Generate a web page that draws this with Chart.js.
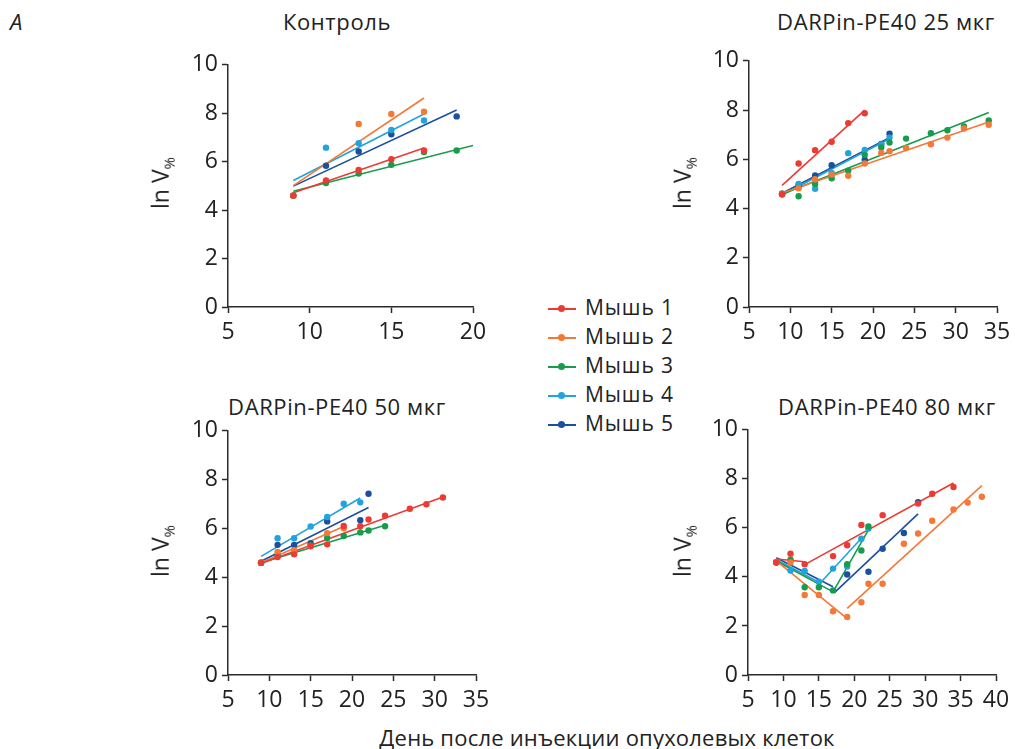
<!DOCTYPE html>
<html lang="ru">
<head>
<meta charset="UTF-8">
<title>ln V% по дням</title>
<script src="https://cdn.jsdelivr.net/npm/chart.js"></script>
<style>
  body { margin: 0; width: 1015px; height: 749px; background: #fff; position: relative; overflow: hidden;
         font-family: "Open Sans", "Noto Sans", sans-serif; color: #222; }
  canvas { position: absolute; }
  .txt { position: absolute; white-space: nowrap; font-size: 22px; letter-spacing: 0.6px; }
  .ytitle { position: absolute; white-space: nowrap; font-size: 23px; transform: translate(-50%, -50%) rotate(-90deg); }
  .ytitle sub { font-size: 15px; }
  .legend { position: absolute; left: 547px; top: 293px; font-size: 21px; letter-spacing: 0.9px; }
  .legend div { height: 29px; line-height: 29px; position: relative; padding-left: 38px; }
  .legend i { position: absolute; left: 1px; top: 15px; width: 28px; height: 2px; }
  .legend b { position: absolute; left: 11px; top: 12px; width: 7px; height: 7px; border-radius: 50%; }
</style>
</head>
<body>
<div class="txt" style="left:10px; top:6px; font-style:italic;">A</div>
<div class="txt" id="t0"></div>
<div class="txt" id="t1"></div>
<div class="txt" id="t2"></div>
<div class="txt" id="t3"></div>
<div class="legend" id="legend"></div>
<div class="txt" id="xlabel" style="left:607px; top:722px; letter-spacing:0.2px; transform:translateX(-50%);">День после инъекции опухолевых клеток</div>

<script>
// мыши и цвета
const mice = ['Мышь 1', 'Мышь 2', 'Мышь 3', 'Мышь 4', 'Мышь 5'];
const miceColors = ['#ec3b33', '#f47838', '#169c4c', '#22a3dc', '#1b4f9f'];

const panelTitles = ['Контроль', 'DARPin-PE40 25 мкг', 'DARPin-PE40 50 мкг', 'DARPin-PE40 80 мкг'];
const xMax = [20, 35, 35, 40];
const yTicks = [0, 2, 4, 6, 8, 10];

// Контроль
const ctrlDays = [
  [9, 11, 13, 15, 17],
  [9, 13, 15, 17],
  [9, 11, 13, 15, 17, 19],
  [9, 11, 13, 15, 17],
  [9, 11, 13, 15, 19]
];
const ctrlLnV = [
  [4.6, 5.23, 5.66, 6.1, 6.46],
  [4.6, 7.56, 7.97, 8.06],
  [4.6, 5.12, 5.51, 5.87, 6.4, 6.46],
  [4.6, 6.58, 6.76, 7.31, 7.7],
  [4.6, 5.83, 6.42, 7.13, 7.87]
];
// отрезки линий: [x1, y1, x2, y2]
const ctrlFit = [
  [[9, 4.72, 17, 6.56]],
  [[9, 5.01, 17, 8.63]],
  [[9, 4.78, 20, 6.67]],
  [[9, 5.22, 17, 7.97]],
  [[9, 4.99, 19, 8.13]]
];

// 25 мкг
const d25Days = [
  [9, 11, 13, 15, 17, 19],
  [9, 11, 13, 15, 17, 19, 21, 22, 24, 27, 29, 31, 34],
  [9, 11, 13, 15, 17, 19, 21, 22, 24, 27, 29, 31, 34],
  [9, 11, 13, 15, 17, 19, 21, 22],
  [9, 11, 13, 15, 19, 21, 22]
];
const d25LnV = [
  [4.58, 5.83, 6.37, 6.71, 7.47, 7.87],
  [4.6, 4.82, 5.19, 5.38, 5.33, 5.83, 6.26, 6.33, 6.46, 6.61, 6.88, 7.25, 7.4],
  [4.6, 4.5, 5.0, 5.23, 5.54, 6.18, 6.48, 6.68, 6.84, 7.06, 7.18, 7.33, 7.58],
  [4.57, 5.0, 4.8, 5.44, 6.25, 6.38, 6.6, 6.88],
  [4.6, 4.95, 5.34, 5.76, 5.98, 6.62, 7.04]
];
const d25Fit = [
  [[9, 4.94, 19, 8.0]],
  [[9, 4.63, 34, 7.51]],
  [[9, 4.58, 34, 7.9]],
  [[9, 4.55, 22, 6.83]],
  [[9, 4.62, 22, 6.88]]
];

// 50 мкг
const d50Days = [
  [9, 11, 13, 15, 17, 19, 21, 22, 24, 27, 29, 31],
  [9, 11, 13, 15, 17, 19],
  [9, 11, 13, 15, 17, 19, 21, 22, 24],
  [9, 11, 13, 15, 17, 19, 21],
  [9, 11, 13, 15, 17, 21, 22]
];
const d50LnV = [
  [4.59, 4.83, 4.94, 5.28, 5.35, 6.1, 6.09, 6.37, 6.52, 6.81, 6.99, 7.27],
  [4.6, 5.04, 5.11, 5.27, 5.81, 6.01],
  [4.6, 4.9, 5.05, 5.3, 5.61, 5.69, 5.84, 5.92, 6.09],
  [4.6, 5.6, 5.6, 6.08, 6.47, 7.01, 7.07],
  [4.6, 5.33, 5.33, 5.4, 6.29, 6.34, 7.42]
];
const d50Fit = [
  [[9, 4.57, 31, 7.29]],
  [[9, 4.6, 19, 6.08]],
  [[9, 4.6, 24, 6.13]],
  [[9, 4.86, 21, 7.25]],
  [[9, 4.66, 22, 6.86]]
];

// 80 мкг
const d80Days = [
  [9, 11, 13, 17, 19, 21, 24, 29, 31, 34],
  [9, 11, 13, 15, 17, 19, 21, 22, 24, 27, 29, 31, 34, 36, 38],
  [9, 11, 13, 15, 17, 19, 21, 22],
  [9, 11, 13, 15, 17, 19, 21, 22],
  [9, 19, 22, 24, 27, 29]
];
const d80LnV = [
  [4.59, 4.95, 4.52, 4.85, 5.29, 6.12, 6.52, 6.99, 7.39, 7.67],
  [4.6, 4.59, 3.26, 3.26, 2.6, 2.37, 2.97, 3.72, 3.72, 5.35, 5.77, 6.29, 6.75, 7.03, 7.27],
  [4.6, 4.7, 3.58, 3.58, 3.45, 4.52, 5.08, 6.06],
  [4.6, 4.26, 4.24, 3.8, 4.34, 4.42, 5.56, 5.97],
  [4.6, 4.1, 4.21, 5.15, 5.79, 7.05]
];
const d80Fit = [
  [[9, 4.73, 13, 4.62], [13, 4.5, 34, 7.83]],
  [[9, 4.65, 19, 2.3], [19, 2.72, 38, 7.72]],
  [[9, 4.65, 17, 3.39], [17, 3.39, 22, 5.92]],
  [[9, 4.7, 15.2, 3.75], [15.2, 3.75, 21, 5.58]],
  [[9, 4.78, 17, 3.6], [17.2, 3.36, 29, 6.57]]
];

const panelDays = [ctrlDays, d25Days, d50Days, d80Days];
const panelLnV = [ctrlLnV, d25LnV, d50LnV, d80LnV];
const panelFit = [ctrlFit, d25Fit, d50Fit, d80Fit];

// положение областей графиков на странице
const areas = [
  { l: 228, t: 61, r: 473, b: 307 },
  { l: 749, t: 57, r: 997, b: 307 },
  { l: 228, t: 427, r: 476, b: 675 },
  { l: 748, t: 426, r: 996, b: 675 }
];
const titlePos = [[337, 22], [886, 22], [337, 407], [887, 407]];
const yTitlePos = [[161, 183], [683, 183], [161, 551], [683, 551]];

const PAD_L = 62, PAD_T = 14, PAD_R = 26, PAD_B = 40;
const axisColor = '#2b2b2b';

function buildDatasets(p) {
  const sets = [];
  mice.forEach((m, i) => {
    sets.push({
      type: 'scatter',
      label: m,
      data: panelDays[p][i].map((d, k) => ({ x: d, y: panelLnV[p][i][k] })),
      backgroundColor: miceColors[i],
      borderWidth: 0,
      pointRadius: 3.2,
      order: i
    });
    panelFit[p][i].forEach(seg => {
      sets.push({
        type: 'scatter',
        label: m,
        data: [{ x: seg[0], y: seg[1] }, { x: seg[2], y: seg[3] }],
        showLine: true,
        borderColor: miceColors[i],
        borderWidth: 1.6,
        pointRadius: 0,
        order: i + 5
      });
    });
  });
  return sets;
}

for (let p = 0; p < 4; p++) {
  const a = areas[p];
  const cv = document.createElement('canvas');
  const w = a.r - a.l + PAD_L + PAD_R;
  const h = a.b - a.t + PAD_T + PAD_B;
  cv.width = w; cv.height = h;
  cv.style.left = (a.l - PAD_L) + 'px';
  cv.style.top = (a.t - PAD_T) + 'px';
  cv.style.width = w + 'px'; cv.style.height = h + 'px';
  document.body.appendChild(cv);

  new Chart(cv.getContext('2d'), {
    type: 'scatter',
    data: { datasets: buildDatasets(p) },
    options: {
      responsive: false,
      animation: false,
      layout: { autoPadding: false, padding: { left: 0, top: PAD_T, right: PAD_R, bottom: 0 } },
      plugins: { legend: { display: false }, tooltip: { enabled: false } },
      scales: {
        x: {
          type: 'linear', min: 5, max: xMax[p],
          ticks: { stepSize: 5, color: '#222', padding: 6, font: { family: 'Open Sans', size: 23 } },
          grid: { drawOnChartArea: false, tickLength: 6, tickColor: axisColor, tickWidth: 1.5 },
          border: { color: axisColor, width: 1.5 },
          afterFit: s => { s.height = PAD_B; }
        },
        y: {
          type: 'linear', min: 0, max: 10,
          afterBuildTicks: s => { s.ticks = yTicks.map(v => ({ value: v })); },
          ticks: { color: '#222', padding: 4, font: { family: 'Open Sans', size: 23 } },
          grid: { drawOnChartArea: false, tickLength: 6, tickColor: axisColor, tickWidth: 1.5 },
          border: { color: axisColor, width: 1.5 },
          afterFit: s => { s.width = PAD_L; }
        }
      }
    }
  });

  const t = document.getElementById('t' + p);
  t.textContent = panelTitles[p];
  t.style.left = titlePos[p][0] + 'px';
  t.style.top = (titlePos[p][1] - 16) + 'px';
  t.style.transform = 'translateX(-50%)';

  const yt = document.createElement('div');
  yt.className = 'ytitle';
  yt.innerHTML = 'ln V<sub>%</sub>';
  yt.style.left = yTitlePos[p][0] + 'px';
  yt.style.top = yTitlePos[p][1] + 'px';
  document.body.appendChild(yt);
}

// общая легенда
const lg = document.getElementById('legend');
mice.forEach((m, i) => {
  const row = document.createElement('div');
  row.innerHTML = '<i style="background:' + miceColors[i] + '"></i><b style="background:' + miceColors[i] + '"></b>' + m;
  lg.appendChild(row);
});
</script>
</body>
</html>
